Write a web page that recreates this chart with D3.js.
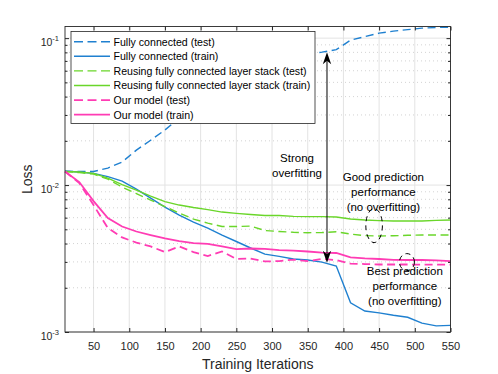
<!DOCTYPE html>
<meta charset="utf-8">
<head>
  <title>Loss vs training iterations</title>
</head>
<style>
  body { margin: 0; background: #fff; }
  text { font-family: "Liberation Sans", Arial, Helvetica, sans-serif; fill: #262626; }
  .axis path { display: none; }
  .axis line { stroke: #262626; }
</style>
<body>
<svg id="chart" width="498" height="374"></svg>
<script src="https://cdnjs.cloudflare.com/ajax/libs/d3/7.8.5/d3.min.js"></script>
<script>
// iterations at which the losses were logged
var iterations = [10, 30, 50, 70, 90, 110, 130, 150, 170, 190, 210, 230, 250, 270,
                  290, 310, 330, 350, 370, 390, 410, 430, 450, 470, 490, 510, 530, 550]

var fcTest = [0.01245, 0.01236, 0.01236, 0.01305, 0.01434, 0.0173, 0.0202, 0.0237, 0.0286, 0.0329,
              0.0379, 0.0429, 0.0486, 0.0551, 0.0625, 0.0708, 0.0760, 0.0778, 0.0803, 0.0835,
              0.0969, 0.1024, 0.1081, 0.1116, 0.1142, 0.1169, 0.1182, 0.1188]
var fcTrain = [0.01245, 0.01226, 0.01201, 0.01142, 0.01065, 0.00939, 0.00816, 0.00708, 0.00625, 0.0056,
               0.0051, 0.00457, 0.00413, 0.00373, 0.00339, 0.00327, 0.00314, 0.00309, 0.00299, 0.00281,
               0.00158, 0.00139, 0.00135, 0.0013, 0.00126, 0.00115, 0.0011, 0.00111]
var reuseTest = [0.01238, 0.01216, 0.01188, 0.01099, 0.00969, 0.00875, 0.00791, 0.00714, 0.00645, 0.00587,
                 0.00551, 0.00522, 0.00522, 0.00526, 0.0049, 0.00483, 0.00477, 0.00474, 0.00475, 0.00481,
                 0.00464, 0.00453, 0.0045, 0.00452, 0.00455, 0.00457, 0.00457, 0.00457]
var reuseTrain = [0.01238, 0.01226, 0.01201, 0.01116, 0.01008, 0.00925, 0.00842, 0.00772, 0.00731, 0.00703,
                  0.00681, 0.00655, 0.00642, 0.0063, 0.0062, 0.0062, 0.00612, 0.0061, 0.0061, 0.00606,
                  0.00587, 0.00578, 0.00573, 0.0057, 0.0057, 0.0057, 0.00575, 0.00578]
var oursTest = [0.01238, 0.01032, 0.00731, 0.0051, 0.0044, 0.00406, 0.00382, 0.0035, 0.00382, 0.0035,
                0.00329, 0.00353, 0.00314, 0.00316, 0.00302, 0.00304, 0.00311, 0.00304, 0.00314, 0.00309,
                0.00292, 0.0029, 0.00288, 0.00288, 0.00288, 0.00287, 0.00287, 0.00287]
var oursTrain = [0.01238, 0.01048, 0.00778, 0.00596, 0.00522, 0.00483, 0.00457, 0.00433, 0.00416, 0.00403,
                 0.00398, 0.00382, 0.00367, 0.0037, 0.00368, 0.00361, 0.00358, 0.00353, 0.00347, 0.00345,
                 0.00322, 0.00317, 0.00314, 0.0031, 0.00309, 0.00309, 0.00307, 0.00304]

var seriesNames = ['Fully connected (test)', 'Fully connected (train)',
                   'Reusing fully connected layer stack (test)', 'Reusing fully connected layer stack (train)',
                   'Our model (test)', 'Our model (train)']
var seriesValues = [fcTest, fcTrain, reuseTest, reuseTrain, oursTest, oursTrain]

var xTicks = [50, 100, 150, 200, 250, 300, 350, 400, 450, 500, 550]
var yMajor = [0.001, 0.01, 0.1]
var yExponents = ['-3', '-2', '-1']

var colors = ['#1f80d0', '#1f80d0', '#6ad62a', '#6ad62a', '#ff3cb4', '#ff3cb4']
var dashed = [true, false, true, false, true, false]

var svg = d3.select('#chart')
// note: "top" is reserved on window, so use plot* names
var plotL = 65, plotR = 450.5, plotT = 26.5, plotB = 332

var x = d3.scaleLinear().domain([10, 550]).range([plotL, plotR])
var y = d3.scaleLog().domain([0.001, 0.12]).range([plotB, plotT])

// minor log values 2..9 per decade
var yMinor = []
yMajor.forEach(function (m) {
  for (var k = 2; k <= 9; k++) {
    if (m * k < 0.12) yMinor.push(m * k)
  }
})

// grid
var grid = svg.append('g')
grid.selectAll('.gx').data(xTicks).enter().append('line')
  .attr('x1', d => x(d)).attr('x2', d => x(d)).attr('y1', plotT).attr('y2', plotB)
  .attr('stroke', '#e3e3e3').attr('stroke-width', 1)
grid.selectAll('.gym').data(yMinor).enter().append('line')
  .attr('x1', plotL).attr('x2', plotR).attr('y1', d => y(d)).attr('y2', d => y(d))
  .attr('stroke', '#c8c8c8').attr('stroke-width', 0.8).attr('stroke-dasharray', '1,3')
grid.selectAll('.gy').data(yMajor).enter().append('line')
  .attr('x1', plotL).attr('x2', plotR).attr('y1', d => y(d)).attr('y2', d => y(d))
  .attr('stroke', '#e3e3e3').attr('stroke-width', 1)

// series
var line = d3.line().x((d, i) => x(iterations[i])).y(d => y(d))
svg.append('g').selectAll('path').data(seriesValues).enter().append('path')
  .attr('d', d => line(d))
  .attr('fill', 'none')
  .attr('stroke', (d, i) => colors[i])
  .attr('stroke-width', (d, i) => i >= 4 ? 1.8 : 1.4)
  .attr('stroke-dasharray', (d, i) => dashed[i] ? '8,4.5' : null)

// axes (ticks inward on all four sides)
svg.append('g').attr('class', 'axis').attr('transform', 'translate(0,' + plotB + ')')
  .call(d3.axisBottom(x).tickValues(xTicks).tickSizeInner(-4).tickPadding(10.5))
  .selectAll('text').attr('font-size', 11).style('font-family', '"Liberation Sans", Arial, sans-serif')
svg.append('g').attr('class', 'axis').attr('transform', 'translate(0,' + plotT + ')')
  .call(d3.axisTop(x).tickValues(xTicks).tickSizeInner(-4).tickFormat(''))
svg.append('g').attr('class', 'axis').attr('transform', 'translate(' + plotL + ',0)')
  .call(d3.axisLeft(y).tickValues(yMajor).tickSizeInner(-4).tickFormat(''))
svg.append('g').attr('class', 'axis').attr('transform', 'translate(' + plotL + ',0)')
  .call(d3.axisLeft(y).tickValues(yMinor).tickSizeInner(-2.5).tickFormat(''))
svg.append('g').attr('class', 'axis').attr('transform', 'translate(' + plotR + ',0)')
  .call(d3.axisRight(y).tickValues(yMajor).tickSizeInner(-4).tickFormat(''))
svg.append('g').attr('class', 'axis').attr('transform', 'translate(' + plotR + ',0)')
  .call(d3.axisRight(y).tickValues(yMinor).tickSizeInner(-2.5).tickFormat(''))

// axis box
svg.append('rect').attr('x', plotL).attr('y', plotT).attr('width', plotR - plotL).attr('height', plotB - plotT)
  .attr('fill', 'none').attr('stroke', '#262626').attr('stroke-width', 0.9)

// y tick labels 10^k
var yl = svg.append('g').selectAll('text').data(yMajor).enter().append('text')
  .attr('x', 59).attr('y', d => y(d) + 7.5).attr('text-anchor', 'end').attr('font-size', 10.5)
yl.append('tspan').text('10')
yl.append('tspan').attr('dy', -5).attr('font-size', 7.5).text((d, i) => yExponents[i])

// axis labels
svg.append('text').attr('x', (plotL + plotR) / 2).attr('y', 369).attr('text-anchor', 'middle')
  .attr('font-size', 14).text('Training Iterations')
svg.append('text').attr('transform', 'translate(31.5,' + ((plotT + plotB) / 2) + ') rotate(-90)')
  .attr('text-anchor', 'middle').attr('font-size', 14).text('Loss')

// annotations
var arrowIter = 377, arrowTop = 0.08, arrowBottom = 0.00296
var ax = x(arrowIter), ay1 = y(arrowTop), ay2 = y(arrowBottom)
svg.append('line').attr('x1', ax).attr('x2', ax).attr('y1', ay1 + 6).attr('y2', ay2 - 6)
  .attr('stroke', '#000').attr('stroke-width', 1)
function head(tx, ty, dir) {
  var p = [[tx, ty], [tx - 4.2, ty + dir * 12], [tx, ty + dir * 8.5], [tx + 4.2, ty + dir * 12]]
  svg.append('path').attr('d', 'M' + p.join('L') + 'Z').attr('fill', '#000')
}
head(ax, ay1, 1)
head(ax, ay2, -1)

var notes = [
  { it: 335, v: 0.01434, lines: ['Strong', 'overfitting'] },
  { it: 456, v: 0.0106, lines: ['Good prediction', 'performance', '(no overfitting)'] },
  { it: 486, v: 0.00246, lines: ['Best prediction', 'performance', '(no overfitting)'] }
]
notes.forEach(function (n) {
  var t = svg.append('text').attr('x', x(n.it)).attr('y', y(n.v)).attr('text-anchor', 'middle')
    .attr('font-size', 11.5).style('fill', '#000')
  n.lines.forEach(function (s, i) {
    t.append('tspan').attr('x', x(n.it)).attr('dy', i === 0 ? 0 : 15).text(s)
  })
})

var ellipses = [
  { it: 443, v: 0.0053, rx: 8.3, ry: 17 },
  { it: 489, v: 0.00299, rx: 7.5, ry: 8.5 }
]
svg.append('g').selectAll('ellipse').data(ellipses).enter().append('ellipse')
  .attr('cx', d => x(d.it)).attr('cy', d => y(d.v)).attr('rx', d => d.rx).attr('ry', d => d.ry)
  .attr('fill', 'none').attr('stroke', '#000').attr('stroke-width', 1).attr('stroke-dasharray', '5,4')

// legend
var lg = svg.append('g').attr('transform', 'translate(71,31.5)')
lg.append('rect').attr('width', 244).attr('height', 92).attr('fill', '#fff')
  .attr('stroke', '#262626').attr('stroke-width', 0.8)
var rows = lg.selectAll('g').data(seriesNames).enter().append('g')
  .attr('transform', (d, i) => 'translate(0,' + (10.2 + i * 14.6) + ')')
rows.append('line').attr('x1', 3).attr('x2', 39)
  .attr('stroke', (d, i) => colors[i])
  .attr('stroke-width', (d, i) => i >= 4 ? 1.8 : 1.4)
  .attr('stroke-dasharray', (d, i) => dashed[i] ? '9,4.5' : null)
rows.append('text').attr('x', 42.5).attr('y', 3.8).attr('font-size', 10.6).style('fill', '#000')
  .text(d => d)
</script>
</body>
</html>
